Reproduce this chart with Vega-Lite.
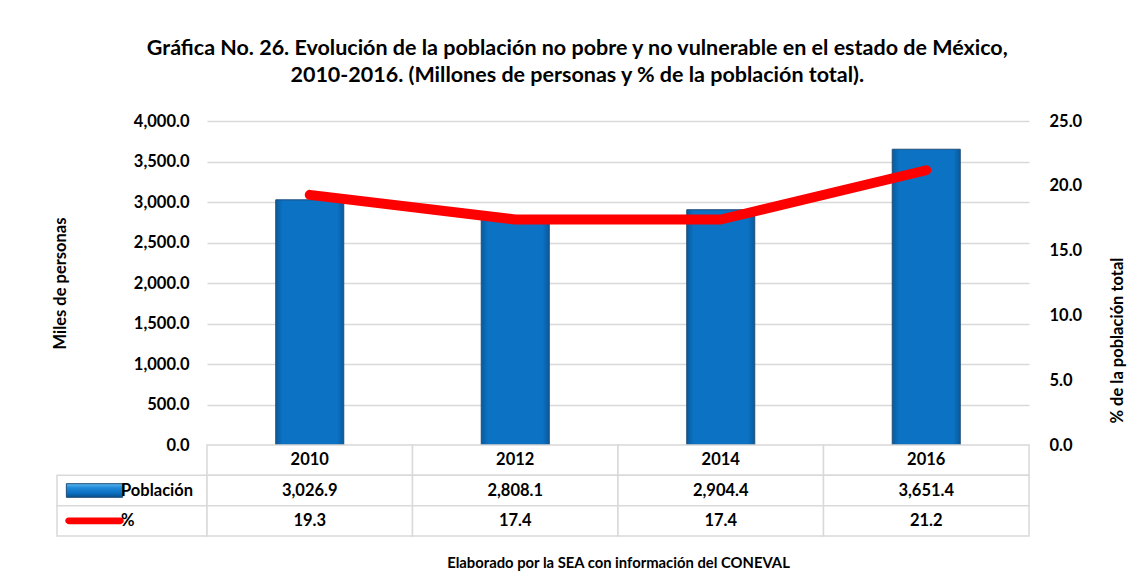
{
  "$schema": "https://vega.github.io/schema/vega-lite/v6.json",
  "padding": {"left": 52, "top": 37, "right": 5, "bottom": 5},
  "background": "white",
  "config": {"font": "Lato", "view": {"stroke": null}},
  "title": {
    "text": ["Gráfica No. 26. Evolución de la población no pobre y no vulnerable en el estado de México,", "2010-2016. (Millones de personas y % de la población total)."],
    "fontSize": 21.5, "fontWeight": "bold", "font": "Lato", "color": "#000000", "anchor": "middle", "lineHeight": 27, "offset": 27, "dx": -12
  },
  "datasets": {
    "d": [
      {"year": "2010", "pop": 3026.9, "pct": 19.3},
      {"year": "2012", "pop": 2808.1, "pct": 17.4},
      {"year": "2014", "pop": 2904.4, "pct": 17.4},
      {"year": "2016", "pop": 3651.4, "pct": 21.2}
    ],
    "rows": [{"row": "Población"}, {"row": "%"}]
  },
  "columns": 2,
  "spacing": 0,
  "bounds": "flush",
  "concat": [
    {
      "width": 150, "height": 324,
      "data": {"values": []},
      "mark": "point",
      "encoding": {}
    },
    {
      "width": 822, "height": 324,
      "data": {"name": "d"},
      "encoding": {
        "x": {"field": "year", "type": "nominal", "scale": {"paddingInner": 0.669, "paddingOuter": 0.3345}, "axis": null}
      },
      "layer": [
        {
          "mark": {"type": "bar", "stroke": "#1f4e79", "strokeWidth": 1,
            "color": {"gradient": "linear", "x1": 0, "y1": 0, "x2": 1, "y2": 0,
              "stops": [{"offset": 0, "color": "#0a5a9c"}, {"offset": 0.1, "color": "#0b72c4"}, {"offset": 0.9, "color": "#0b72c4"}, {"offset": 1, "color": "#0a5a9c"}]}},
          "encoding": {
            "y": {"field": "pop", "type": "quantitative", "scale": {"domain": [0, 4000], "nice": false},
              "axis": {"orient": "left", "values": [0, 500, 1000, 1500, 2000, 2500, 3000, 3500, 4000], "format": ",.1f",
                "domain": false, "ticks": false, "grid": true, "gridColor": "#d9d9d9", "gridWidth": 1.5,
                "labelPadding": 18, "labelFontSize": 16.5, "labelFontWeight": "bold", "labelColor": "#000000",
                "title": "Miles de personas", "titleFontSize": 16.5, "titleFontWeight": "bold", "titleColor": "#000000", "titlePadding": 65}}
          }
        },
        {
          "mark": {"type": "line", "color": "#ff0000", "strokeWidth": 10, "strokeCap": "round", "strokeJoin": "round"},
          "encoding": {
            "y": {"field": "pct", "type": "quantitative", "scale": {"domain": [0, 25], "nice": false},
              "axis": {"orient": "right", "values": [0, 5, 10, 15, 20, 25], "format": ".1f",
                "domain": false, "ticks": false, "grid": false,
                "labelPadding": 20, "labelFontSize": 16.5, "labelFontWeight": "bold", "labelColor": "#000000",
                "title": "% de la población total", "titleAngle": 270, "titleY": 219, "titleFontSize": 16.5, "titleFontWeight": "bold", "titleColor": "#000000", "titlePadding": 44}}
          }
        }
      ],
      "resolve": {"scale": {"y": "independent"}}
    },
    {
      "width": 150, "height": 91,
      "data": {"name": "rows"},
      "encoding": {
        "y": {"field": "row", "type": "nominal", "scale": {"domain": ["yr", "Población", "%"], "paddingInner": 0, "paddingOuter": 0}, "axis": null}
      },
      "layer": [
        {
          "mark": {"type": "rect", "fill": "white", "stroke": "#d9d9d9", "strokeWidth": 1.5}
        },
        {
          "transform": [{"filter": "datum.row === 'Población'"}],
          "mark": {"type": "bar", "width": {"band": 0.75}, "height": {"band": 0.45}, "stroke": "#1f4e79", "strokeWidth": 1,
            "color": {"gradient": "linear", "x1": 0, "y1": 0, "x2": 0, "y2": 1,
              "stops": [{"offset": 0, "color": "#5ab8f0"}, {"offset": 0.3, "color": "#1f8ad8"}, {"offset": 0.7, "color": "#0b6fc0"}, {"offset": 1, "color": "#0a4f8a"}]}},
          "encoding": {"x": {"datum": "sym", "type": "nominal", "scale": {"domain": ["sym", "lab"], "paddingInner": 0, "paddingOuter": 0}, "axis": null}}
        },
        {
          "transform": [{"filter": "datum.row === '%'"}],
          "mark": {"type": "bar", "width": {"band": 0.78}, "height": {"band": 0.22}, "cornerRadius": 3.5, "color": "#ff0000"},
          "encoding": {"x": {"datum": "sym", "type": "nominal", "axis": null}}
        },
        {
          "mark": {"type": "text", "align": "left", "baseline": "middle", "dx": -11, "fontSize": 16.5, "fontWeight": "bold", "color": "#000000"},
          "encoding": {
            "x": {"datum": "lab", "type": "nominal", "bandPosition": 0, "axis": null},
            "text": {"field": "row"}
          }
        }
      ]
    },
    {
      "width": 822, "height": 91,
      "data": {"name": "d"},
      "encoding": {
        "x": {"field": "year", "type": "nominal", "scale": {"paddingInner": 0, "paddingOuter": 0},
          "axis": {"orient": "bottom", "labels": false, "ticks": false, "domain": false,
            "title": "Elaborado por la SEA con información del CONEVAL", "titleFontSize": 14.8, "titleFontWeight": "bold", "titleColor": "#000000", "titlePadding": 19}}
      },
      "layer": [
        {
          "mark": {"type": "rect", "fill": "white", "stroke": "#d9d9d9", "strokeWidth": 1.5},
          "encoding": {"y": {"datum": "yr", "type": "nominal", "scale": {"domain": ["yr", "Población", "%"], "paddingInner": 0, "paddingOuter": 0}, "axis": null}}
        },
        {
          "mark": {"type": "rect", "fill": "white", "stroke": "#d9d9d9", "strokeWidth": 1.5},
          "encoding": {"y": {"datum": "Población", "type": "nominal", "axis": null}}
        },
        {
          "mark": {"type": "rect", "fill": "white", "stroke": "#d9d9d9", "strokeWidth": 1.5},
          "encoding": {"y": {"datum": "%", "type": "nominal", "axis": null}}
        },
        {
          "mark": {"type": "text", "baseline": "middle", "fontSize": 16.5, "fontWeight": "bold", "color": "#000000"},
          "encoding": {"y": {"datum": "yr", "type": "nominal", "axis": null}, "text": {"field": "year"}}
        },
        {
          "mark": {"type": "text", "baseline": "middle", "fontSize": 16.5, "fontWeight": "bold", "color": "#000000"},
          "encoding": {"y": {"datum": "Población", "type": "nominal", "axis": null}, "text": {"field": "pop", "format": ",.1f"}}
        },
        {
          "mark": {"type": "text", "baseline": "middle", "fontSize": 16.5, "fontWeight": "bold", "color": "#000000"},
          "encoding": {"y": {"datum": "%", "type": "nominal", "axis": null}, "text": {"field": "pct", "format": ".1f"}}
        }
      ]
    }
  ]
}
